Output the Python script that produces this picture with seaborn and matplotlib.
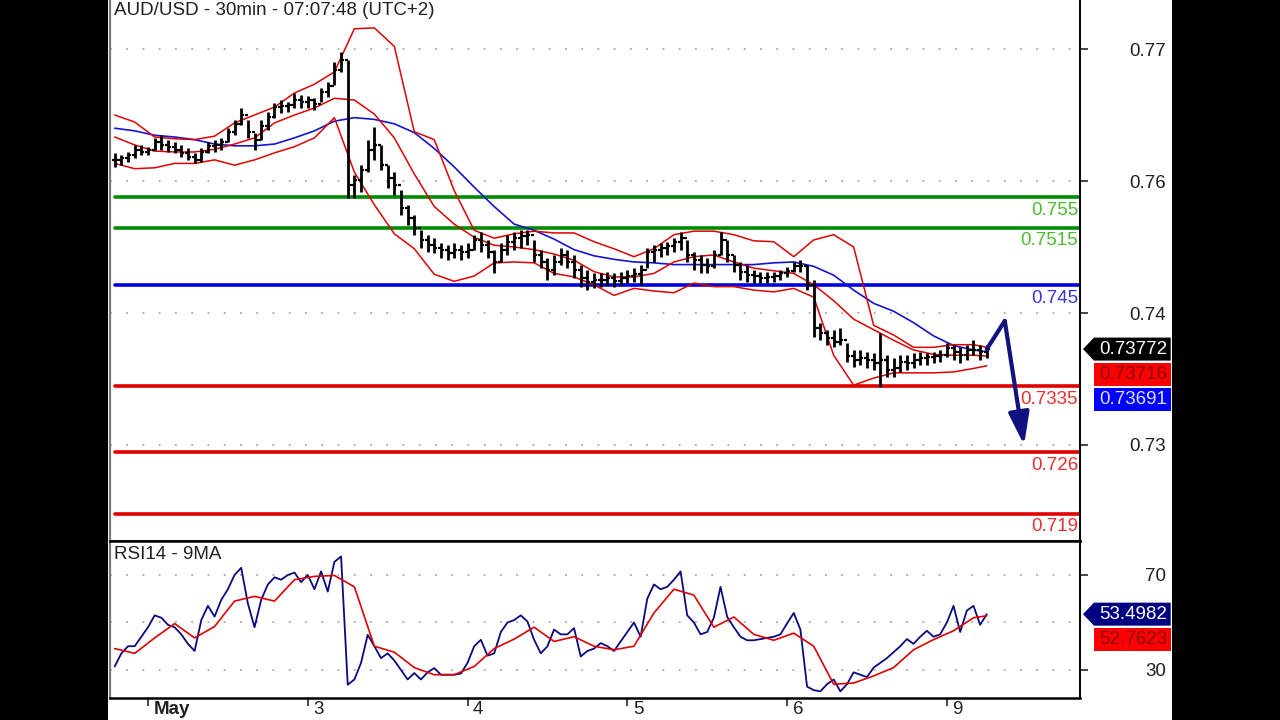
import matplotlib
matplotlib.use("Agg")
import matplotlib.pyplot as plt
import matplotlib.transforms as mtransforms
from matplotlib.patches import Polygon, Rectangle
import pandas as pd
import seaborn as sns

# one sample per hour, hours counted from May 2 00:00 (trading time)
bar_hours = list(range(-5, 127))
bar_high = [
    .7600, .7598, .7601, .7609, .7609,
    .7607, .7617, .7620, .7615, .7612, .7609, .7605, .7600, .7605, .7612,
    .7615, .7617, .7628, .7637, .7651, .7637, .7623, .7637, .7646, .7657,
    .7660, .7658, .7668, .7666, .7665, .7662, .7674, .7681, .7703, .7715,
    .7706, .7575, .7586, .7615, .7629, .7609, .7586, .7578, .7558, .7541,
    .7529, .7512, .7507, .7503, .7498, .7495, .7498, .7495, .7498, .7507,
    .7510, .7501, .7490, .7498, .7507, .7510, .7512, .7512, .7501, .7490,
    .7480, .7484, .7492, .7490, .7484, .7473, .7467, .7463, .7463, .7465,
    .7463, .7465, .7467, .7469, .7473, .7492, .7495, .7498, .7499, .7503,
    .7510, .7501, .7487, .7484, .7480, .7490, .7510, .7501, .7484, .7476,
    .7473, .7467, .7465, .7465, .7465, .7467, .7470, .7476, .7478, .7473,
    .7455, .7407, .7399, .7399, .7401, .7384, .7376, .7376, .7374, .7373,
    .7395, .7370, .7367, .7370, .7370, .7373, .7374, .7373, .7374, .7376,
    .7384, .7382, .7379, .7382, .7387, .7382, .7382,
]
bar_low = [
    .7584, .7586, .7590, .7594, .7598,
    .7598, .7603, .7603, .7601, .7600, .7595, .7592, .7588, .7590, .7600,
    .7601, .7603, .7612, .7620, .7632, .7617, .7603, .7615, .7626, .7640,
    .7645, .7646, .7651, .7651, .7651, .7649, .7658, .7663, .7677, .7692,
    .7549, .7549, .7555, .7578, .7592, .7580, .7560, .7552, .7529, .7518,
    .7507, .7492, .7487, .7486, .7480, .7478, .7480, .7478, .7480, .7490,
    .7487, .7480, .7463, .7476, .7484, .7490, .7492, .7495, .7476, .7469,
    .7455, .7461, .7473, .7469, .7458, .7448, .7444, .7446, .7448, .7450,
    .7448, .7450, .7452, .7453, .7450, .7469, .7476, .7482, .7484, .7487,
    .7490, .7476, .7467, .7463, .7463, .7469, .7484, .7476, .7465, .7455,
    .7453, .7452, .7452, .7452, .7453, .7455, .7459, .7465, .7465, .7444,
    .7391, .7387, .7382, .7379, .7382, .7362, .7357, .7359, .7355, .7353,
    .7334, .7345, .7345, .7351, .7353, .7355, .7359, .7359, .7361, .7362,
    .7368, .7365, .7361, .7365, .7370, .7365, .7367,
]
bar_close = [
    .7592, .7594, .7598, .7603, .7601,
    .7603, .7612, .7609, .7607, .7603, .7600, .7595, .7592, .7601, .7608,
    .7609, .7612, .7624, .7633, .7643, .7624, .7615, .7630, .7641, .7652,
    .7653, .7654, .7660, .7658, .7660, .7655, .7669, .7676, .7694, .7706,
    .7563, .7569, .7580, .7603, .7609, .7586, .7571, .7563, .7537, .7526,
    .7515, .7501, .7495, .7492, .7490, .7486, .7490, .7487, .7490, .7501,
    .7495, .7487, .7476, .7490, .7499, .7503, .7505, .7507, .7484, .7476,
    .7467, .7476, .7484, .7476, .7467, .7458, .7453, .7455, .7455, .7458,
    .7454, .7458, .7460, .7462, .7467, .7487, .7490, .7492, .7494, .7499,
    .7503, .7484, .7478, .7473, .7471, .7484, .7501, .7484, .7473, .7465,
    .7461, .7460, .7458, .7459, .7460, .7463, .7466, .7471, .7471, .7450,
    .7401, .7395, .7390, .7385, .7387, .7369, .7365, .7367, .7365, .7361,
    .7365, .7353, .7355, .7362, .7361, .7365, .7367, .7368, .7369, .7370,
    .7378, .7374, .7370, .7376, .7376, .7374, .7377,
]

# Bollinger bands and the slow average, one sample every 3 hours
band_hours = list(range(-5, 125, 3)) + [126]
bb_upper = [
    .7643, .7635, .7618, .7616, .7615, .7619, .7634, .7643, .7652, .7668,
    .7678, .7692, .7741, .7742, .7721, .7624, .7615, .7557, .7512, .7503,
    .7508, .7511, .7509, .7509, .7499, .7491, .7482, .7491, .7507, .7511,
    .7511, .7507, .7500, .7499, .7482, .7501, .7507, .7493, .7404, .7393,
    .7379, .7379, .7382, .7382, .7379,
]
bb_middle = [
    .7618, .7609, .7602, .7601, .7601, .7604, .7610, .7617, .7634, .7643,
    .7651, .7662, .7660, .7644, .7617, .7576, .7539, .7519, .7504, .7495,
    .7493, .7490, .7485, .7478, .7465, .7459, .7459, .7463, .7476, .7482,
    .7484, .7476, .7469, .7466, .7463, .7450, .7432, .7411, .7399, .7387,
    .7376, .7371, .7370, .7370, .7369,
]
bb_lower = [
    .7588, .7582, .7583, .7588, .7588, .7592, .7586, .7592, .7600, .7607,
    .7617, .7640, .7578, .7541, .7508, .7491, .7462, .7454, .7460, .7475,
    .7476, .7475, .7463, .7459, .7450, .7438, .7446, .7443, .7441, .7452,
    .7448, .7448, .7444, .7442, .7446, .7436, .7370, .7336, .7344, .7350,
    .7350, .7350, .7351, .7355, .7358,
]
slow_ma = [
    .7628, .7625, .7620, .7618, .7615, .7610, .7608, .7608, .7610, .7617,
    .7625, .7636, .7640, .7638, .7633, .7623, .7605, .7584, .7561, .7539,
    .7519, .7512, .7502, .7490, .7483, .7479, .7476, .7475, .7473, .7473,
    .7473, .7473, .7473, .7475, .7476, .7471, .7461, .7444, .7429, .7420,
    .7407, .7392, .7381, .7376, .7374,
]

rsi14 = [
    31.5, 37, 40, 40, 44,
    48, 53, 52, 49, 48, 45, 41, 38, 51, 57,
    52.5, 59.5, 64, 70, 73, 58, 48, 59.5, 66, 69,
    68, 70, 71, 67, 70, 64, 71.5, 63, 75.5, 77.8,
    23.8, 26, 33, 44.8, 40, 35, 37, 34, 30, 26,
    28.7, 26, 29, 30.8, 28, 28, 28, 28.5, 33, 40,
    42.7, 36, 37, 46, 50, 51, 53, 50.4, 42.7, 37,
    40, 47, 45, 45, 47.6, 35.7, 38, 39, 41.3, 40,
    38, 42, 46, 50, 44, 60, 66, 64, 65, 68,
    71.5, 53, 50, 45, 46, 52, 65, 52.4, 48, 44,
    42.5, 42.5, 43, 43.5, 44, 45, 49.6, 54, 47, 23,
    21.5, 21, 24, 26, 21, 24, 29, 28, 27, 31,
    33, 35, 37.5, 40, 43, 41, 44, 46.5, 44, 45,
    50, 57, 46, 55, 57, 49, 53.5,
]
rsi_ma9 = [
    39, 37, 43.5, 49.5, 43.5, 48.3, 59, 61, 59, 68,
    69.4, 69.8, 65, 40, 37.5, 31, 28, 28, 31.5, 39,
    43, 48, 42, 44, 40, 38.5, 40, 54, 64, 61.5,
    48, 52.3, 45, 42.5, 45.5, 40, 24, 24.5, 27.5, 31,
    38.5, 42.8, 46.5, 52, 52.8,
]

level_values = [0.755, 0.7515, 0.745, 0.7335, 0.726, 0.719]
level_labels = ["0.755", "0.7515", "0.745", "0.7335", "0.726", "0.719"]
level_kinds = ["green", "green", "blue", "red", "red", "red"]

forecast_hours = [126, 128.7, 131.6]
forecast_price = [0.7377, 0.7409, 0.7268]

price_ticks = [0.7268, 0.7418, 0.7568, 0.7718]
rsi_ticks = [30, 70]
rsi_grid = [30, 50, 70]
day_ticks = [0, 24, 48, 72, 96, 120]
day_labels = ["May", "3", "4", "5", "6", "9"]

price_tags = ["0.73772", "0.73716", "0.73691"]
rsi_tags = ["53.4982", "52.7623"]

line_colors = {"green": "#008c00", "blue": "#0000e0", "red": "#e00000"}
text_colors = {"green": "#4cbb30", "blue": "#3535dd", "red": "#e83030"}

sns.set_style("white")
plt.rcParams["font.family"] = ["Liberation Sans", "DejaVu Sans"]
FS = 13.5

bars = pd.DataFrame({"hour": bar_hours, "high": bar_high, "low": bar_low, "close": bar_close})
bars["open"] = bars["close"].shift(1).fillna(bars["close"])
bands = pd.DataFrame({"hour": band_hours, "upper": bb_upper, "middle": bb_middle,
                      "lower": bb_lower, "slow": slow_ma, "rsi_ma": rsi_ma9})

fig = plt.figure(figsize=(12.8, 7.2), dpi=100, facecolor="black")
fig.add_artist(Rectangle((108 / 1280, 0), 1064 / 1280, 1, transform=fig.transFigure,
                         facecolor="white", edgecolor="none", zorder=0))
ax = fig.add_axes([110 / 1280, 179 / 720, 970 / 1280, 541 / 720])
ax_rsi = fig.add_axes([110 / 1280, 22 / 720, 970 / 1280, 157 / 720])

# ---- price panel
ax.set_xlim(-5.71, 140.0)
ax.set_ylim(0.71589, 0.77737)
for v in price_ticks:
    ax.axhline(v, color="#a8a8a8", lw=1.3, ls=(0, (1, 8)), zorder=0.5)

for v, lab, kind in zip(level_values, level_labels, level_kinds):
    ax.axhline(v, xmin=0.005, color=line_colors[kind], lw=2.6, zorder=1)
    ax.annotate(lab, xy=(0.998, v), xycoords=ax.get_yaxis_transform(),
                xytext=(0, -9.5), textcoords="offset points", ha="right", va="center",
                fontsize=FS, color=text_colors[kind])

sns.lineplot(data=bands, x="hour", y="slow", ax=ax, color="#1414d2", lw=1.2, sort=False, zorder=2)
for col in ["upper", "middle", "lower"]:
    sns.lineplot(data=bands, x="hour", y=col, ax=ax, color="#e00000", lw=1.1, sort=False, zorder=2)

ax.vlines(bars["hour"], bars["low"], bars["high"], color="black", lw=2.0, zorder=3)
ax.hlines(bars["open"], bars["hour"] - 0.45, bars["hour"], color="black", lw=1.6, zorder=3)
ax.hlines(bars["close"], bars["hour"], bars["hour"] + 0.45, color="black", lw=1.6, zorder=3)

ax.plot(forecast_hours[:2], forecast_price[:2], color="#111180", lw=3.0, solid_capstyle="round", zorder=4)
ax.annotate("", xy=(forecast_hours[2], forecast_price[2]), xytext=(forecast_hours[1], forecast_price[1]),
            arrowprops=dict(arrowstyle="-|>,head_length=1.4,head_width=0.45", mutation_scale=14,
                            color="#111180", lw=3.0, shrinkA=0, shrinkB=0), zorder=4)

ax.text(0.004, 0.997, "AUD/USD - 30min - 07:07:48 (UTC+2)", transform=ax.transAxes,
        ha="left", va="top", fontsize=FS, color="#202020")

# ---- RSI panel
ax_rsi.set_xlim(-5.71, 140.0)
ax_rsi.set_ylim(18.2, 84.3)
for v in rsi_grid:
    ax_rsi.axhline(v, color="#a8a8a8", lw=1.3, ls=(0, (1, 8)), zorder=0.5)
sns.lineplot(x=bar_hours, y=rsi14, ax=ax_rsi, color="#0a0a80", lw=1.3, sort=False, zorder=2)
sns.lineplot(data=bands, x="hour", y="rsi_ma", ax=ax_rsi, color="#e00000", lw=1.2, sort=False, zorder=3)
ax_rsi.text(0.004, 0.97, "RSI14 - 9MA", transform=ax_rsi.transAxes,
            ha="left", va="top", fontsize=FS, color="#202020")

for a in (ax, ax_rsi):
    a.set_xlabel("")
    a.set_ylabel("")
    a.yaxis.tick_right()
    a.spines["left"].set_color("#7a7a7a")
    a.spines["left"].set_linewidth(1.6)
    a.spines["right"].set_color("black")
    a.spines["right"].set_linewidth(1.4)
    a.spines["bottom"].set_color("black")
    a.spines["bottom"].set_linewidth(1.8)
    a.tick_params(axis="y", which="both", left=False, right=True, direction="out",
                  length=5.8, width=1.2, pad=56, labelsize=FS, labelcolor="#202020")
ax.spines["top"].set_visible(False)
ax_rsi.spines["top"].set_color("black")
ax_rsi.spines["top"].set_linewidth(1.8)

ax.set_yticks(price_ticks)
ax.set_yticklabels([f"{v:.2f}" for v in price_ticks])
ax.set_xticks([])
ax_rsi.set_yticks(rsi_ticks)
ax_rsi.set_yticklabels([str(v) for v in rsi_ticks])
for a in (ax, ax_rsi):
    for lbl in a.get_yticklabels():
        lbl.set_horizontalalignment("right")

ax_rsi.set_xticks(day_ticks)
ax_rsi.set_xticklabels([])
ax_rsi.tick_params(axis="x", bottom=True, direction="out", length=5.8, width=1.2)
for h, lab in zip(day_ticks, day_labels):
    ax_rsi.annotate(lab, xy=(h, 0), xycoords=ax_rsi.get_xaxis_transform(), xytext=(4, -2.2),
                    textcoords="offset points", ha="left", va="top", fontsize=FS,
                    color="#202020", fontweight="bold" if lab == "May" else "normal",
                    annotation_clip=False)


def value_tag(a, yval, text, face, fg, drop_px, pointed):
    y0, y1 = a.get_ylim()
    per_px = (y1 - y0) / a.bbox.height
    yc = yval - drop_px * per_px
    hh = 11.5 * per_px
    tr = mtransforms.blended_transform_factory(a.transAxes, a.transData)
    left, right = 1.0144, 1.0935
    verts = [(left, yc + hh), (right, yc + hh), (right, yc - hh), (left, yc - hh)]
    if pointed:
        verts.append((1.0031, yc))
    a.add_patch(Polygon(verts, closed=True, transform=tr, facecolor=face,
                        edgecolor="none", clip_on=False, zorder=5))
    a.text((left + right) / 2 + 0.001, yc, text, transform=tr, ha="center", va="center",
           color=fg, fontsize=FS, clip_on=False, zorder=6)


value_tag(ax, bar_close[-1], price_tags[0], "black", "white", 0, True)
value_tag(ax, bar_close[-1], price_tags[1], "#ff0000", "#8a0000", 25, False)
value_tag(ax, bar_close[-1], price_tags[2], "#0000ff", "#dde0ff", 50, False)
value_tag(ax_rsi, rsi14[-1], rsi_tags[0], "#000080", "white", 0, True)
value_tag(ax_rsi, rsi14[-1], rsi_tags[1], "#ff0000", "#8a0000", 25, False)

fig.savefig("out.png", dpi=100, facecolor=fig.get_facecolor())
